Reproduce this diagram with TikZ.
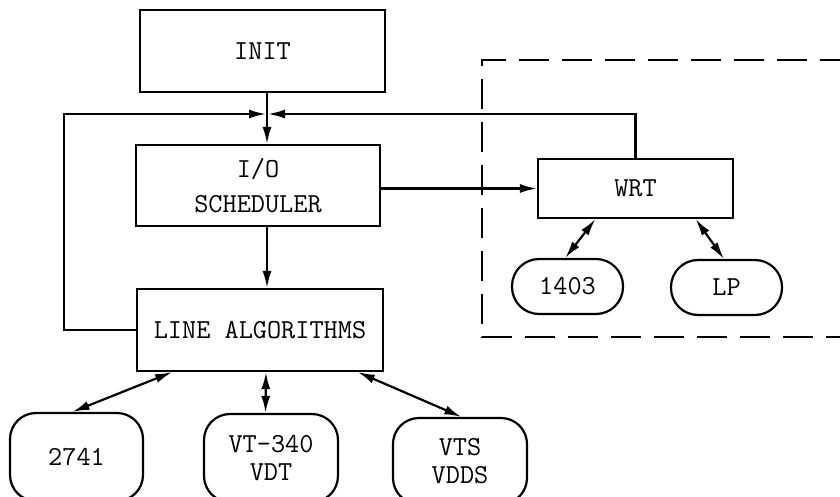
\documentclass[tikz,border=0pt]{standalone}
\usetikzlibrary{arrows.meta,calc}
\begin{document}
\begin{tikzpicture}[x=1pt,y=-1pt,
  every node/.style={font=\ttfamily\fontsize{27.5}{27.5}\selectfont, align=center, inner sep=0pt},
  procbox/.style={draw, line width=2.2pt},
  termbox/.style={draw, line width=2.2pt, rounded corners=26pt},
  smallterm/.style={draw, line width=2.2pt, rounded corners=27pt},
  conn/.style={line width=2.2pt},
  arr/.style={conn, -{Latex[length=17pt,width=9pt]}},
  dblarr/.style={conn, {Latex[length=17pt,width=9pt]}-{Latex[length=17pt,width=9pt]}},
  fence/.style={line width=2.2pt, dash pattern=on 30pt off 13pt}]
\useasboundingbox (0,0) rectangle (840,497);
\clip (0,0) rectangle (840,497);

% processing blocks
\node[procbox, minimum width=245pt, minimum height=82pt] (init) at (262.5,51) {INIT};
\node[procbox, minimum width=244pt, minimum height=81pt] (io) at (258,185.5) {I/O\\[7pt]SCHEDULER};
\node[procbox, minimum width=246pt, minimum height=82pt] (line) at (260,330) {LINE ALGORITHMS};
\node[procbox, minimum width=195pt, minimum height=59pt] (wrt) at (635.5,188.5) {WRT};

% devices attached to the writer
\node[smallterm, minimum width=111pt, minimum height=55pt] (p1403) at (567.5,286.5) {1403};
\node[smallterm, minimum width=111pt, minimum height=55pt] (lp) at (726.5,287.5) {LP};

% terminals on the lines
\node[termbox, minimum width=133pt, minimum height=88pt] (t2741) at (76.5,457) {2741};
\node[termbox, minimum width=134pt, minimum height=88pt] (vt) at (271,458) {VT-340\\VDT};
\node[termbox, minimum width=134pt, minimum height=86pt] (vts) at (460,461) {VTS\\VDDS};

% writer subsystem boundary
\draw[fence] (850,60) -- (482,60) -- (482,337) -- (850,337);

% merge point above the scheduler
\coordinate (jn) at (267,114);
\coordinate (lft) at (64,114);

\draw[arr] (init.south -| jn) -- (io.north -| jn);
\draw[arr] (io.south -| jn) -- (line.north -| jn);
\draw[arr] (line.west) -| (lft) -- ([xshift=-1pt]jn);
\draw[arr] (wrt.north) |- ([xshift=1pt]jn);
\draw[arr] (io.east |- wrt.west) -- (wrt.west);

% two-way links
\draw[dblarr] ($(line.south west)!0.146!(line.south east)$) -- ($(t2741.north west)!0.47!(t2741.north east)$);
\draw[dblarr] ($(line.south west)!0.524!(line.south east)$) -- ($(vt.north west)!0.46!(vt.north east)$);
\draw[dblarr] ($(line.south west)!0.894!(line.south east)$) -- ($(vts.north west)!0.51!(vts.north east)$);
\draw[dblarr] ($(wrt.south west)!0.297!(wrt.south east)$) -- ($(p1403.north west)!0.48!(p1403.north east)$);
\draw[dblarr] ($(wrt.south west)!0.805!(wrt.south east)$) -- ($(lp.north west)!0.477!(lp.north east)$);
\end{tikzpicture}
\end{document}
